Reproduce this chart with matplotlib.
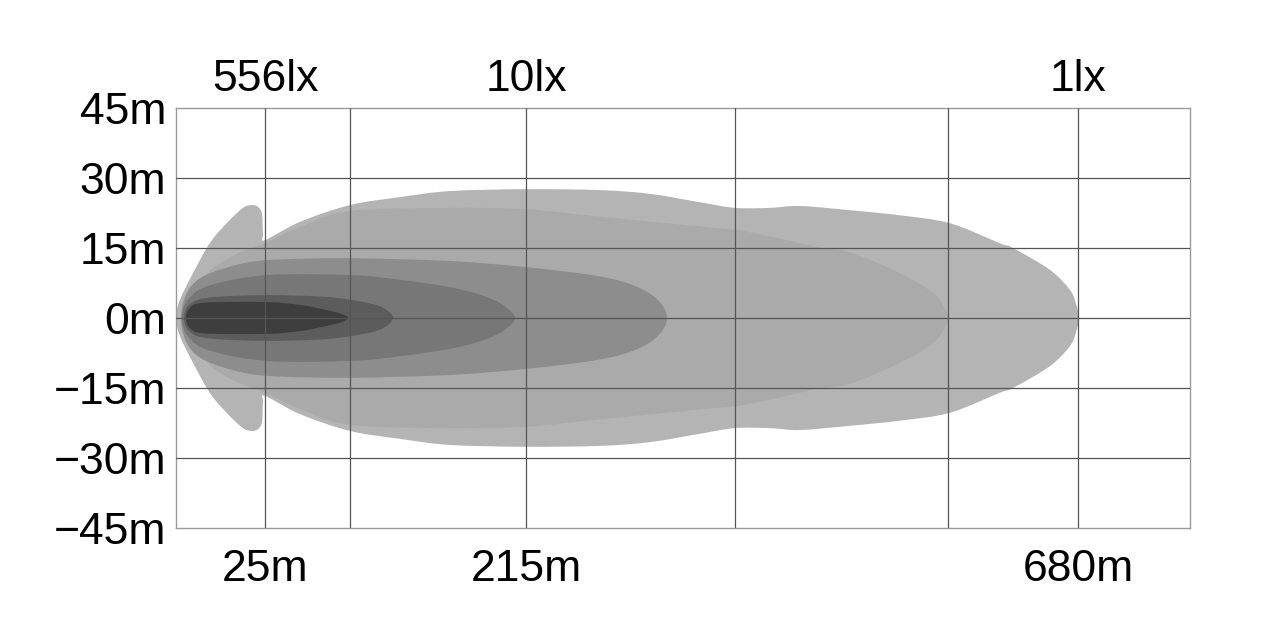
import matplotlib
matplotlib.use("Agg")
import matplotlib.pyplot as plt
from matplotlib.path import Path
from matplotlib.patches import PathPatch

# beam outline data: (x position on chart, half width in m), upper half, left tip -> right tip
zone_outer = [(0, 0), (4, 3.9), (17, 9.6), (34, 16.1), (51, 20.4), (67, 23.6), (76, 24.2),
              (82, 23.8), (86, 22.3), (87, 18.0), (89, 16.7), (124, 20.6), (174, 24.2),
              (224, 25.9), (274, 27.2), (350, 27.6), (424, 27.4), (474, 26.6), (524, 24.8),
              (559, 23.6), (594, 23.6), (624, 24.0), (674, 23.1), (724, 22.0), (774, 20.3),
              (824, 16.0), (837, 15.0), (874, 10.3), (894, 6.0), (900, 3.0), (903, 0)]
zone_2 = [(7, 0), (24, 8.0), (54, 13.0), (89, 16.0), (124, 19.5), (174, 22.9), (274, 23.6),
          (350, 23.3), (424, 21.7), (524, 19.6), (559, 18.9), (594, 17.5), (641, 15.2),
          (674, 14.1), (724, 9.6), (757, 5.4), (769, 2.0), (772, 0)]
zone_3 = [(5, 0), (10, 5.0), (24, 8.5), (54, 11.0), (91, 12.4), (174, 12.8), (274, 12.2),
          (350, 10.9), (424, 8.9), (462, 6.6), (483, 3.6), (491, 0)]
zone_4 = [(6, 0), (12, 4.0), (34, 7.0), (91, 9.2), (174, 9.2), (224, 8.2), (274, 6.6),
          (304, 5.0), (324, 3.2), (336, 1.2), (339, 0)]
zone_5 = [(8, 0), (14, 3.0), (34, 4.4), (91, 4.9), (144, 4.6), (174, 3.9), (204, 2.5), (217, 0)]
zone_6 = [(10, 0), (14, 2.2), (29, 3.3), (91, 3.4), (124, 2.8), (144, 2.0), (164, 1.0), (172, 0)]

zones = [zone_outer, zone_2, zone_3, zone_4, zone_5, zone_6]
zone_colors = ["#b4b4b4", "#aaaaaa", "#8d8d8d", "#777777", "#5c5c5c", "#3e3e3e"]

grid_x = [89, 174, 350, 559, 772, 902]
dist_labels = ["25m", "", "215m", "", "", "680m"]
lux_labels = ["556lx", "", "10lx", "", "", "1lx"]
y_ticks = [45, 30, 15, 0, -15, -30, -45]
y_labels = ["45m", "30m", "15m", "0m", "\u221215m", "\u221230m", "\u221245m"]


def smooth_closed(pts):
    # closed outline through the points, drawn as cubic curves (catmull-rom tangents)
    n = len(pts)
    verts = [pts[0]]
    codes = [Path.MOVETO]
    for i in range(n):
        p0 = pts[(i - 1) % n]
        p1 = pts[i]
        p2 = pts[(i + 1) % n]
        p3 = pts[(i + 2) % n]
        c1 = (p1[0] + (p2[0] - p0[0]) / 6, p1[1] + (p2[1] - p0[1]) / 6)
        c2 = (p2[0] - (p3[0] - p1[0]) / 6, p2[1] - (p3[1] - p1[1]) / 6)
        verts += [c1, c2, p2]
        codes += [Path.CURVE4] * 3
    return Path(verts, codes)


plt.rcParams['font.family'] = ['Liberation Sans', 'DejaVu Sans']

fig = plt.figure(figsize=(12.8, 6.21), dpi=100)
ax = fig.add_axes([176 / 1280, 93 / 621, 1014 / 1280, 420 / 621])

for pts, col in zip(zones, zone_colors):
    upper = list(pts)
    lower = [(x, -y) for x, y in reversed(pts[1:-1])]
    outline = upper + lower
    ax.add_patch(PathPatch(smooth_closed(outline), facecolor=col, lw=0, zorder=1))

for gx in grid_x:
    ax.axvline(gx, color="#555555", lw=0.9, zorder=3)
for gy in y_ticks[1:-1]:
    ax.axhline(gy, color="#555555", lw=0.9, zorder=3)

ax.set_xlim(0, 1014)
ax.set_ylim(-45, 45)
ax.set_xticks(grid_x)
ax.set_xticklabels(dist_labels, fontsize=32)
ax.set_yticks(y_ticks)
ax.set_yticklabels(y_labels, fontsize=32)
ax.tick_params(axis="x", length=0, pad=15)
ax.tick_params(axis="y", length=0, pad=7)

top = ax.secondary_xaxis("top")
top.set_xticks(grid_x)
top.set_xticklabels(lux_labels, fontsize=32)
top.tick_params(length=0, pad=6)
for s in top.spines.values():
    s.set_visible(False)

for s in ax.spines.values():
    s.set_color("#9a9a9a")
    s.set_linewidth(1)

fig.savefig("out.png", dpi=100)
